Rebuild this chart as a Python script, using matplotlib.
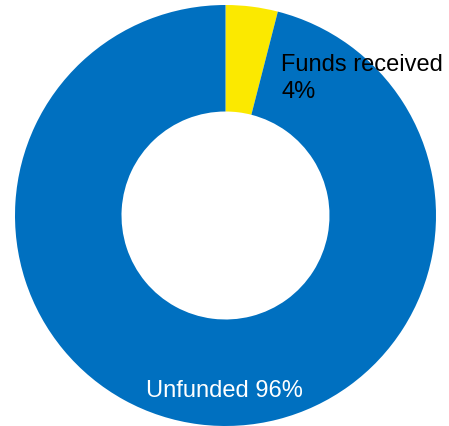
import matplotlib
matplotlib.use("Agg")
import matplotlib.pyplot as plt

categories = ["Funds received", "Unfunded"]
values = [4, 96]
colors = ["#FBE900", "#0070C0"]

plt.rcParams['font.family'] = ['Liberation Sans', 'DejaVu Sans']

W, H = 449, 427
fig = plt.figure(figsize=(W / 100, H / 100), dpi=100)
ax = fig.add_axes([0, 0, 1, 1])

cx, cy = 225.5, H - 216.5
R = 210.5
ax.pie(values, colors=colors, startangle=90, counterclock=False,
       center=(cx, cy), radius=R, frame=True,
       wedgeprops=dict(width=R - 104, linewidth=0))
ax.set_xlim(0, W)
ax.set_ylim(0, H)
ax.set_aspect('equal')
ax.axis('off')

fs = 17
ax.text(281, H - 71, categories[0], fontsize=fs, color='black', va='baseline', ha='left')
ax.text(281, H - 98.5, f"{values[0]}%", fontsize=fs, color='black', va='baseline', ha='left')
ax.text(224, H - 397, f"{categories[1]} {values[1]}%", fontsize=fs, color='white',
        va='baseline', ha='center')

fig.savefig("out.png", dpi=100)
